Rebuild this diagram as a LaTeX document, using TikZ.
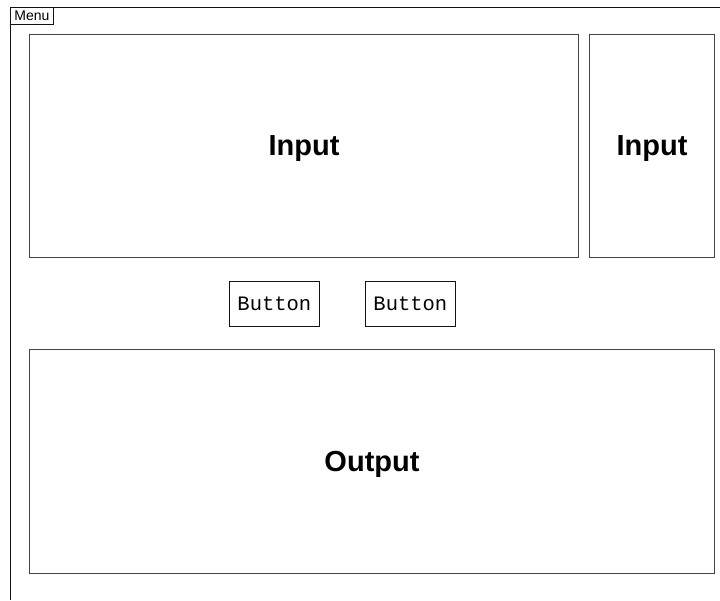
\documentclass[tikz,border=0pt]{standalone}
\usepackage{fontspec}
\setmainfont{Liberation Sans}
\setmonofont{Liberation Mono}
\definecolor{wfline}{RGB}{20,20,20}
\definecolor{wfbox}{RGB}{70,70,70}
\begin{document}
\begin{tikzpicture}[x=1pt,y=-1pt,
    panel/.style={draw=wfbox,line width=1pt,anchor=north west,inner sep=0pt,text depth=0pt,
      font=\fontsize{29}{32}\selectfont\bfseries},
    btn/.style={draw=wfline,line width=0.8pt,anchor=north west,inner sep=0pt,
      minimum width=90pt,minimum height=45pt,font=\ttfamily\fontsize{20.5}{23}\selectfont}]
        \useasboundingbox (0,0) rectangle (720,600);
        \draw[wfline,line width=1pt] (720,7)--(10,7)--(10,600);
        \node[draw=wfline,line width=0.8pt,anchor=north west,inner sep=0pt,
          minimum width=43pt,minimum height=17pt,font=\fontsize{14}{15}\selectfont] (menu) at (10,7) {Menu};
        \node[panel,minimum width=549pt,minimum height=223pt] (input) at (29,34) {Input};
        \node[panel,minimum width=125pt,minimum height=223pt] (side) at (589,34) {Input};
        \node[btn] (btnA) at (229,281) {Button};
        \node[btn] (btnB) at (365,281) {Button};
        \node[panel,minimum width=685pt,minimum height=224pt] (output) at (29,349) {Output};
      \end{tikzpicture}
\end{document}
